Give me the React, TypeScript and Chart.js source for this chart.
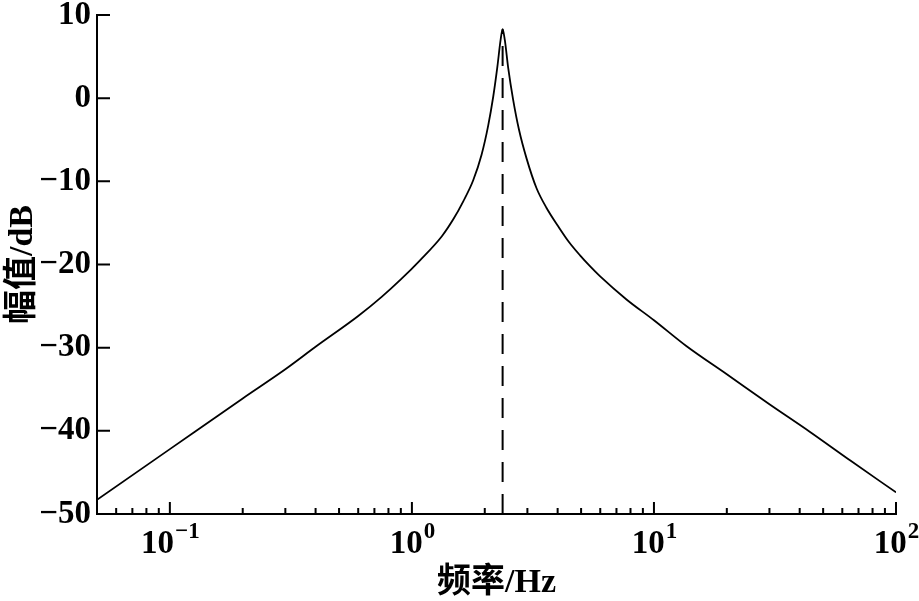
import { useEffect, useRef } from "react";
import { Chart, registerables } from "chart.js";

Chart.register(...registerables);

// Frequency (Hz) and magnitude (dB)
const freqHz = [
  0.05, 0.1, 0.2, 0.3, 0.4, 0.6, 0.75, 0.9, 1.08, 1.33, 1.48, 1.63, 1.79, 1.94,
  2.066, 2.168, 2.253, 2.325, 2.37, 2.42, 2.5, 2.62, 2.77, 2.98, 3.27, 3.6, 4.02,
  4.43, 4.95, 5.44, 5.98, 7.7, 10, 13.6, 20, 30, 44, 65, 100,
];
const magnitudeDb = [
  -48.3, -42.2, -36.1, -32.6, -29.9, -26.2, -23.9, -21.8, -19.5, -16.6, -14.6,
  -12.4, -9.9, -6.8, -3.3, 0.2, 3.7, 7.0, 8.3, 7.0, 3.6, -0.2, -3.8, -7.3, -10.8,
  -13.2, -15.4, -17.2, -18.9, -20.2, -21.4, -24.2, -26.7, -29.8, -33.2, -36.8,
  -40.1, -43.6, -47.4,
];

const peakFreqHz = [2.37, 2.37];
const peakLineDb = [-50, 8.3];

const yTickValues = [-50, -40, -30, -20, -10, 0, 10];
const xMajorTicks = [0.1, 1, 10, 100];
const xTickBase = ["10", "10", "10", "10"];
const xTickExponent = ["\u22121", "0", "1", "2"];
const xMinorTicks = [
  0.06, 0.07, 0.08, 0.09, 0.2, 0.3, 0.4, 0.5, 0.6, 0.7, 0.8, 0.9, 2, 3, 4, 5, 6,
  7, 8, 9, 20, 30, 40, 50, 60, 70, 80, 90,
];
const xTitle = "频率/Hz";
const yTitle = "幅值/dB";

const FONT_FAMILY = "'Liberation Serif', 'Noto Sans CJK SC', serif";

const axisDecorations = {
  id: "axisDecorations",
  afterDraw(chart: any) {
    const { ctx, chartArea, scales } = chart;
    const xs = scales.x;
    const ys = scales.y;
    ctx.save();
    ctx.strokeStyle = "#000";
    ctx.lineWidth = 2;
    ctx.beginPath();
    yTickValues.forEach((v) => {
      const py = ys.getPixelForValue(v);
      ctx.moveTo(chartArea.left, py);
      ctx.lineTo(chartArea.left + 13, py);
    });
    xMajorTicks.forEach((v) => {
      const px = xs.getPixelForValue(v);
      ctx.moveTo(px, chartArea.bottom);
      ctx.lineTo(px, chartArea.bottom - 12);
    });
    xMinorTicks.forEach((v) => {
      const px = xs.getPixelForValue(v);
      ctx.moveTo(px, chartArea.bottom);
      ctx.lineTo(px, chartArea.bottom - 6);
    });
    ctx.stroke();

    // x tick labels: base "10" with raised exponent
    ctx.fillStyle = "#000";
    ctx.textBaseline = "alphabetic";
    ctx.textAlign = "left";
    const baseFont = `bold 33px ${FONT_FAMILY}`;
    const expFont = `bold 23px ${FONT_FAMILY}`;
    xMajorTicks.forEach((v, i) => {
      const px = xs.getPixelForValue(v);
      ctx.font = baseFont;
      const bw = ctx.measureText(xTickBase[i]).width;
      ctx.font = expFont;
      const ew = ctx.measureText(xTickExponent[i]).width;
      const start = px - (bw + ew) / 2;
      ctx.font = baseFont;
      ctx.fillText(xTickBase[i], start, chartArea.bottom + 39);
      ctx.font = expFont;
      ctx.fillText(xTickExponent[i], start + bw + 1, chartArea.bottom + 24);
    });
    ctx.restore();
  },
};

export default function App() {
  const canvasRef = useRef<HTMLCanvasElement | null>(null);

  useEffect(() => {
    if (!canvasRef.current) return;
    const tickFont = { family: FONT_FAMILY, size: 33, weight: "bold" as const };
    const titleFont = { family: FONT_FAMILY, size: 34, weight: "bold" as const };
    const chart = new Chart(canvasRef.current, {
      type: "line",
      data: {
        datasets: [
          {
            data: freqHz.map((f, i) => ({ x: f, y: magnitudeDb[i] })),
            borderColor: "#000",
            borderWidth: 1.8,
            pointRadius: 0,
            cubicInterpolationMode: "monotone",
            fill: false,
          },
          {
            data: peakFreqHz.map((f, i) => ({ x: f, y: peakLineDb[i] })),
            borderColor: "#000",
            borderWidth: 2,
            borderDash: [20, 12],
            pointRadius: 0,
            fill: false,
          },
        ],
      },
      options: {
        responsive: false,
        animation: false,
        devicePixelRatio: 1,
        layout: { padding: { top: 15, right: 23, left: 0, bottom: 0 } },
        plugins: {
          legend: { display: false },
          tooltip: { enabled: false },
        },
        scales: {
          x: {
            type: "logarithmic",
            min: 0.05,
            max: 100,
            grid: { display: false, drawTicks: false },
            border: { display: true, color: "#000", width: 2 },
            ticks: { display: false, autoSkip: false },
            afterBuildTicks: (s: any) => {
              s.ticks = xMajorTicks.map((v) => ({ value: v }));
            },
            afterFit: (s: any) => {
              s.height = 87;
              s.paddingLeft = 0;
              s.paddingRight = 0;
            },
            title: {
              display: true,
              text: xTitle,
              color: "#000",
              font: titleFont,
              padding: { top: 0, bottom: -3 },
            },
          },
          y: {
            type: "linear",
            min: -50,
            max: 10,
            grid: { display: false, drawTicks: false },
            border: { display: true, color: "#000", width: 2 },
            ticks: {
              padding: 6,
              color: "#000",
              font: tickFont,
              callback: (v: any) =>
                Number(v) < 0 ? "\u2212" + Math.abs(Number(v)) : String(v),
            },
            afterBuildTicks: (s: any) => {
              s.ticks = yTickValues.map((v) => ({ value: v }));
            },
            afterFit: (s: any) => {
              s.width = 97;
              s.paddingTop = 0;
              s.paddingBottom = 0;
            },
            title: {
              display: true,
              text: yTitle,
              color: "#000",
              font: titleFont,
              padding: { top: 3, bottom: 0 },
            },
          },
        },
      },
      plugins: [axisDecorations],
    });
    return () => chart.destroy();
  }, []);

  return (
    <div
      style={{
        position: "fixed",
        left: 0,
        top: 0,
        width: 919,
        height: 601,
        background: "#fff",
      }}
    >
      <canvas
        ref={canvasRef}
        width={919}
        height={601}
        style={{ display: "block", width: 919, height: 601 }}
      />
    </div>
  );
}
